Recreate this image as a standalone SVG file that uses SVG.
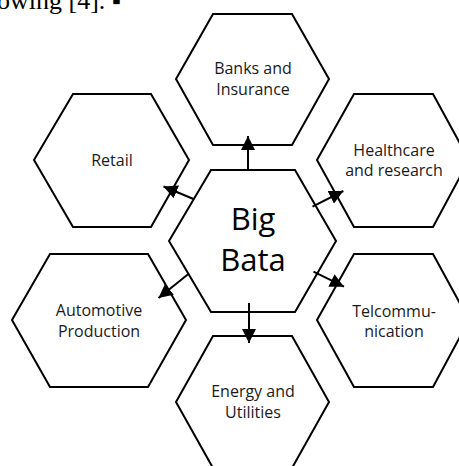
<svg xmlns="http://www.w3.org/2000/svg" width="459" height="466" viewBox="0 0 459 466">
<style>
.hex{fill:#fff;stroke:#000;stroke-width:2;stroke-linejoin:miter}
.lbl{font-family:"Open Sans","Liberation Sans",sans-serif;font-size:16px;fill:#1a1a1a;text-anchor:middle}
.big{font-family:"Open Sans","Liberation Sans",sans-serif;font-size:31px;fill:#000;text-anchor:middle}
.con{stroke:#000;stroke-width:2;fill:none;marker-end:url(#ah)}
.page{font-family:"Liberation Serif","Times New Roman",serif;font-size:26px;fill:#000}
</style>
<defs>
<marker id="ah" markerUnits="userSpaceOnUse" markerWidth="14" markerHeight="14" viewBox="0 0 14 14" refX="14" refY="7" orient="auto">
<path d="M0,0 L14,7 L0,14 z" fill="#000"/>
</marker>
</defs>
<text class="page" x="-3" y="9">owing [4]. ▪</text>
<g id="center">
<polygon class="hex" points="211,170 295,170 336,241 295,312 211,312 169,241"/>
<text class="big" x="253" y="230">Big</text>
<text class="big" x="253" y="271">Bata</text>
</g>
<g id="banks">
<polygon class="hex" points="213,14 292,14 329,79 292,145 213,145 176,79"/>
<text class="lbl" x="253" y="74">Banks and</text>
<text class="lbl" x="253" y="95">Insurance</text>
</g>
<g id="healthcare">
<polygon class="hex" points="354,94 433,94 469,160 433,227 354,227 317,160"/>
<text class="lbl" x="394" y="156">Healthcare</text>
<text class="lbl" x="394" y="176">and research</text>
</g>
<g id="telcom">
<polygon class="hex" points="354,254 433,254 469,320 433,387 354,387 317,320"/>
<text class="lbl" x="394" y="317">Telcommu-</text>
<text class="lbl" x="394" y="337">nication</text>
</g>
<g id="energy">
<polygon class="hex" points="213,336 292,336 329,402 292,468 213,468 176,402"/>
<text class="lbl" x="253" y="397">Energy and</text>
<text class="lbl" x="253" y="418">Utilities</text>
</g>
<g id="automotive">
<polygon class="hex" points="50,254 148,254 186,320 148,387 50,387 12,320"/>
<text class="lbl" x="99" y="316">Automotive</text>
<text class="lbl" x="99" y="337">Production</text>
</g>
<g id="retail">
<polygon class="hex" points="73,94 151,94 189,160 151,227 73,227 34,160"/>
<text class="lbl" x="112" y="166">Retail</text>
</g>
<g id="connectors">
<line class="con" x1="248" y1="170" x2="248" y2="136"/>
<line class="con" x1="249" y1="303" x2="249" y2="343"/>
<line class="con" x1="193.5" y1="199" x2="163.5" y2="186.5"/>
<line class="con" x1="312.5" y1="206.7" x2="343.3" y2="191"/>
<line class="con" x1="313.5" y1="271.7" x2="344" y2="286.7"/>
<line class="con" x1="189" y1="273.5" x2="158.5" y2="298"/>
</g>
</svg>
